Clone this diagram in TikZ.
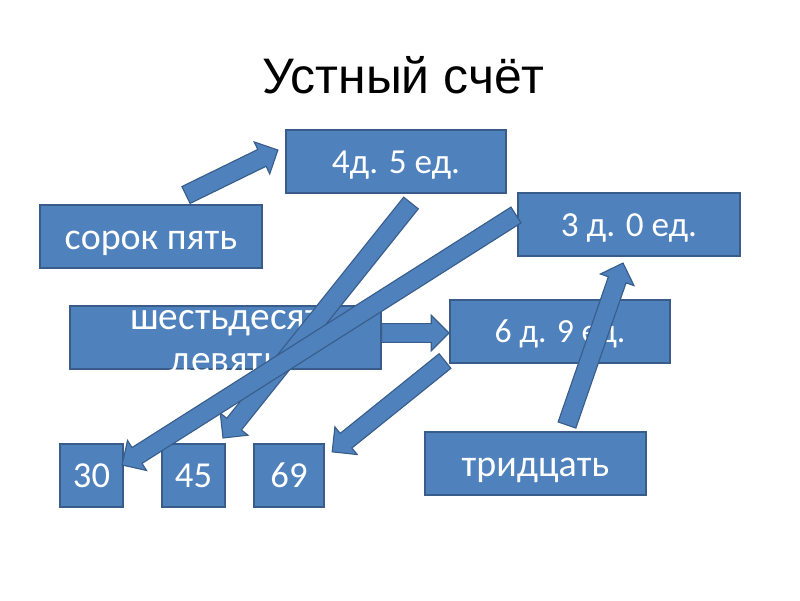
\documentclass[tikz,border=0pt]{standalone}
\usepackage{fontspec}
\setmainfont{Carlito}
\newfontfamily\titlefont{Liberation Sans}
\usetikzlibrary{shapes.arrows, calc}
\definecolor{boxblue}{HTML}{4F81BD}
\definecolor{edgeblue}{HTML}{385D8A}

\tikzset{
  box/.style={draw=edgeblue, fill=boxblue, line width=0.8pt, minimum height=1.575cm, inner sep=0pt, text=white,
    execute at begin node={\rule[-0.27em]{0pt}{1.22em}}},
  barrow/.style={single arrow, draw=edgeblue, fill=boxblue, line width=0.8pt, inner xsep=0pt, inner ysep=0.22cm, outer sep=0pt, single arrow head extend=0.21cm},
}
% block arrow from one point to another
\newcommand{\blockarrow}[2]{%
  \path let \p1=(#1), \p2=(#2), \n1={atan2(\y2-\y1,\x2-\x1)}, \n2={veclen(\x2-\x1,\y2-\y1)} in
    node[barrow, minimum height=\n2, rotate=\n1, anchor=tail] at (\p1) {};}

\begin{document}
\begin{tikzpicture}[x=0.025cm, y=-0.025cm]
	\useasboundingbox (0,0) rectangle (800,600);
	\node[font=\titlefont\fontsize{35.5}{42}\selectfont, anchor=base] (title) at (403.5,93) {Устный счёт};
	% boxes
	\node[box, minimum width=5.5cm, font=\fontsize{25}{30}\selectfont] (fortyfive) at (396,161.5) {4д. 5 ед.};
	\node[box, minimum width=5.55cm, font=\fontsize{27}{32}\selectfont] (sorok) at (151,236.5) {сорок пять};
	\node[box, minimum width=5.55cm, font=\fontsize{25}{30}\selectfont] (thirty) at (629,224.5) {3 д. 0 ед.};
	\node[box, minimum width=7.775cm] (six) at (225.5,337.5) {};
	\node[text=white, align=center, font=\fontsize{28}{30.6}\selectfont] (sixtext) at (225.5,345) {шестьдесят\\девять};
	\node[box, minimum width=5.5cm, font=\fontsize{24}{29}\selectfont] (sixnine) at (560,331.5) {6 д. 9 ед.};
	\node[box, minimum width=1.575cm, font=\fontsize{26}{31}\selectfont] (n30) at (91.5,475.5) {30};
	\node[box, minimum width=1.575cm, font=\fontsize{26}{31}\selectfont] (n45) at (193.5,475.5) {45};
	\node[box, minimum width=1.75cm, font=\fontsize{26}{31}\selectfont] (n69) at (289,475.5) {69};
	\node[box, minimum width=5.525cm, font=\fontsize{27}{32}\selectfont] (tri) at (535.5,463.5) {тридцать};
	% arrow ends
	\coordinate (a1) at (186,195);
	\coordinate (a1t) at (278,150);
	\coordinate (a2) at (411,203);
	\coordinate (a2t) at (223,438);
	\coordinate (a3) at (516,215);
	\coordinate (a3t) at (122,465);
	\coordinate (a4) at (six.east |- 0,333);
	\coordinate (a4t) at (449,333);
	\coordinate (a5) at (445,361);
	\coordinate (a5t) at (332,452);
	\coordinate (a6) at (567,425);
	\coordinate (a6t) at (623,263);
	\blockarrow{a1}{a1t}
	\blockarrow{a2}{a2t}
	\blockarrow{a3}{a3t}
	\blockarrow{a4}{a4t}
	\blockarrow{a5}{a5t}
	\blockarrow{a6}{a6t}
\end{tikzpicture}
\end{document}
